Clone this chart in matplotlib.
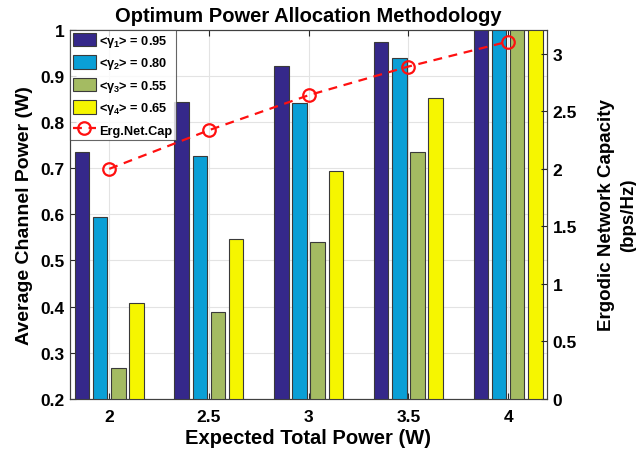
import numpy as np
import matplotlib
matplotlib.use("Agg")
from matplotlib import pyplot as plt
from matplotlib.patches import Patch
from matplotlib.lines import Line2D

plt.rcParams["font.family"] = ["Liberation Sans", "DejaVu Sans"]
plt.rcParams["font.weight"] = "bold"
plt.rcParams["mathtext.fontset"] = "custom"
plt.rcParams["mathtext.rm"] = "Liberation Sans"
plt.rcParams["mathtext.bf"] = "Liberation Sans:bold"

# ---------------------------------------------------------------- data
power = [2.0, 2.5, 3.0, 3.5, 4.0]
gamma1 = [0.736, 0.843, 0.921, 0.974, 1.06]
gamma2 = [0.595, 0.727, 0.842, 0.938, 1.04]
gamma3 = [0.267, 0.389, 0.540, 0.734, 1.02]
gamma4 = [0.408, 0.546, 0.694, 0.851, 1.03]
capacity = [2.00, 2.336, 2.64, 2.889, 3.106]

labels = ["<γ$_{\\mathbf{1}}$> = 0.95", "<γ$_{\\mathbf{2}}$> = 0.80",
          "<γ$_{\\mathbf{3}}$> = 0.55", "<γ$_{\\mathbf{4}}$> = 0.65"]
colors = ["#35288a", "#0a9fd6", "#a4bb62", "#f6f600"]

# ---------------------------------------------------------------- figure
fig = plt.figure(figsize=(6.36, 4.64), dpi=100)
ax = fig.add_axes([0.110, 0.138, 0.750, 0.796])
ax2 = ax.twinx()

x = np.array(power)
pitch = 0.091
width = 0.073
handles = []
for i, (vals, c, lab) in enumerate(zip([gamma1, gamma2, gamma3, gamma4], colors, labels)):
    ax.bar(x + (i - 1.5) * pitch, vals, width=width, bottom=0.0, color=c,
           edgecolor="#3a3a3a", linewidth=0.8, zorder=3)
    handles.append(Patch(facecolor=c, edgecolor="#3a3a3a", linewidth=0.8, label=lab))

ax.set_xlim(1.803, 4.195)
ax.set_ylim(0.2, 1.0)
ax.set_xticks(power)
ax.set_xticklabels(["2", "2.5", "3", "3.5", "4"])
ax.set_yticks(np.arange(0.2, 1.01, 0.1))
ax.set_yticklabels(["0.2", "0.3", "0.4", "0.5", "0.6", "0.7", "0.8", "0.9", "1"])
ax.grid(True, color="#e3e3e3", linewidth=0.8, zorder=0)
ax.set_axisbelow(True)

ax2.plot(power, capacity, color="#ff1010", linestyle=(0, (4, 3)), linewidth=1.6,
         marker="o", markersize=9, markerfacecolor="none", markeredgewidth=1.6,
         zorder=5)
ax2.set_ylim(0, 3.21)
ax2.set_yticks([0, 0.5, 1, 1.5, 2, 2.5, 3])
ax2.set_yticklabels(["0", "0.5", "1", "1.5", "2", "2.5", "3"])

for a in (ax, ax2):
    a.tick_params(direction="in", labelsize=12.5, length=4, color="#262626", width=0.8)
    for s in a.spines.values():
        s.set_color("#404040")
        s.set_linewidth(0.8)
ax.tick_params(axis="x", top=True, pad=7)
ax.tick_params(axis="y", pad=4)
ax2.tick_params(axis="y", pad=4)

ax.set_title("Optimum Power Allocation Methodology", fontsize=14.5,
             fontweight="bold", pad=6)
ax.set_xlabel("Expected Total Power (W)", fontsize=14.5, fontweight="bold", labelpad=3)
ax.set_ylabel("Average Channel Power (W)", fontsize=14, fontweight="bold", labelpad=5)
ax2.set_ylabel("Ergodic Network Capacity\n(bps/Hz)", fontsize=13.5,
               fontweight="bold", rotation=90, labelpad=15, linespacing=1.4)

handles.append(Line2D([], [], color="#ff1010", linestyle=(0, (4, 3)), linewidth=1.6,
                      marker="o", markersize=9, markerfacecolor="none",
                      markeredgewidth=1.6, label="Erg.Net.Cap"))
leg = ax2.legend(handles=handles, loc="upper left", bbox_to_anchor=(0.0, 1.0),
                 frameon=True, fancybox=False, edgecolor="#404040",
                 borderpad=0.25, handlelength=1.75, handleheight=1.25,
                 handletextpad=0.3, labelspacing=0.5, borderaxespad=0.0,
                 prop={"weight": "bold", "size": 9.2})
leg.get_frame().set_linewidth(0.8)
leg.set_zorder(10)

fig.savefig("out.png", dpi=100)
